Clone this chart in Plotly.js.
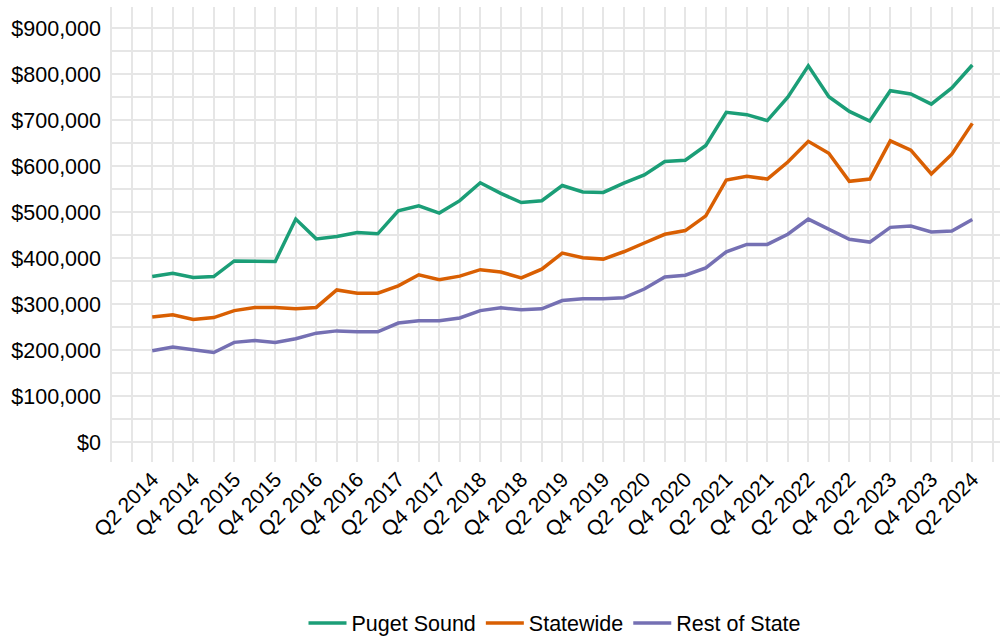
<!DOCTYPE html>
<html>
<head>
<meta charset="utf-8">
<script src="https://cdn.plot.ly/plotly-3.0.1.min.js"></script>
<style>html,body{margin:0;padding:0;background:#fff;}#chart{width:1002px;height:636px;}</style>
</head>
<body>
<div id="chart"></div>
<script>
const quarters = [
  "Q2 2014","Q3 2014","Q4 2014","Q1 2015","Q2 2015","Q3 2015","Q4 2015","Q1 2016",
  "Q2 2016","Q3 2016","Q4 2016","Q1 2017","Q2 2017","Q3 2017","Q4 2017","Q1 2018",
  "Q2 2018","Q3 2018","Q4 2018","Q1 2019","Q2 2019","Q3 2019","Q4 2019","Q1 2020",
  "Q2 2020","Q3 2020","Q4 2020","Q1 2021","Q2 2021","Q3 2021","Q4 2021","Q1 2022",
  "Q2 2022","Q3 2022","Q4 2022","Q1 2023","Q2 2023","Q3 2023","Q4 2023","Q1 2024",
  "Q2 2024"
];
const pugetSound = [
  360000,367000,358000,360000,394000,393000,393000,485000,
  442000,447000,456000,453000,503000,514000,498000,525000,
  564000,541000,521000,525000,558000,544000,543000,563000,
  581000,610000,613000,645000,717000,712000,699000,750000,
  818000,751000,719000,698000,764000,757000,735000,770000,
  820000
];
const statewide = [
  272000,277000,267000,271000,286000,293000,293000,290000,
  293000,331000,324000,324000,340000,364000,353000,361000,
  375000,370000,357000,376000,411000,401000,398000,414000,
  433000,452000,460000,492000,570000,578000,572000,609000,
  654000,628000,567000,572000,655000,635000,583000,626000,
  693000
];
const restOfState = [
  199000,207000,201000,195000,217000,221000,217000,225000,
  237000,242000,240000,240000,259000,264000,264000,270000,
  286000,292000,288000,290000,308000,312000,312000,314000,
  333000,359000,363000,379000,414000,430000,430000,452000,
  485000,464000,441000,435000,467000,470000,457000,459000,
  484000
];
const seriesNames = ["Puget Sound","Statewide","Rest of State"];
const seriesColors = ["#1B9E77","#D95F02","#7570B3"];

const xIdx = quarters.map((q, i) => i);
const tickIdx = xIdx.filter(i => i % 2 === 0);
const tickText = tickIdx.map(i => quarters[i]);

const data = [pugetSound, statewide, restOfState].map((vals, k) => ({
  x: xIdx,
  y: vals,
  type: "scatter",
  mode: "lines",
  name: seriesNames[k],
  line: {color: seriesColors[k], width: 3.5},
  text: quarters,
  hoverinfo: "text+y+name"
}));

const gridColor = "#E6E6E6";
const layout = {
  width: 1002,
  height: 636,
  margin: {l: 110, r: 2, t: 7, b: 174, autoexpand: false},
  paper_bgcolor: "#fff",
  plot_bgcolor: "#fff",
  font: {family: "Liberation Sans, Arial, sans-serif", size: 21, color: "#000"},
  showlegend: true,
  legend: {
    orientation: "h",
    x: 0.5, xanchor: "center",
    y: -0.354, yanchor: "middle",
    font: {size: 21.5, color: "#000"},
    itemwidth: 38
  },
  xaxis: {
    automargin: false,
    range: [-2.06, 41.35],
    tickmode: "array",
    tickvals: tickIdx,
    ticktext: tickText,
    tickangle: -45,
    showgrid: true,
    gridcolor: gridColor,
    gridwidth: 2,
    zeroline: false,
    showline: false,
    ticks: "",
    tickfont: {size: 21},
    minor: {dtick: 1, tick0: 0, showgrid: true, gridcolor: gridColor, gridwidth: 2, ticks: ""}
  },
  yaxis: {
    automargin: false,
    range: [-43000, 946000],
    tickmode: "linear",
    tick0: 0,
    dtick: 100000,
    tickprefix: "$",
    tickformat: ",.0f",
    showgrid: true,
    gridcolor: gridColor,
    gridwidth: 2,
    zeroline: false,
    showline: false,
    ticks: "",
    ticklabelstandoff: 8,
    tickfont: {size: 21.5},
    minor: {dtick: 50000, tick0: 0, showgrid: true, gridcolor: gridColor, gridwidth: 2, ticks: ""}
  }
};

Plotly.newPlot("chart", data, layout, {displayModeBar: false, staticPlot: true});
</script>
</body>
</html>
